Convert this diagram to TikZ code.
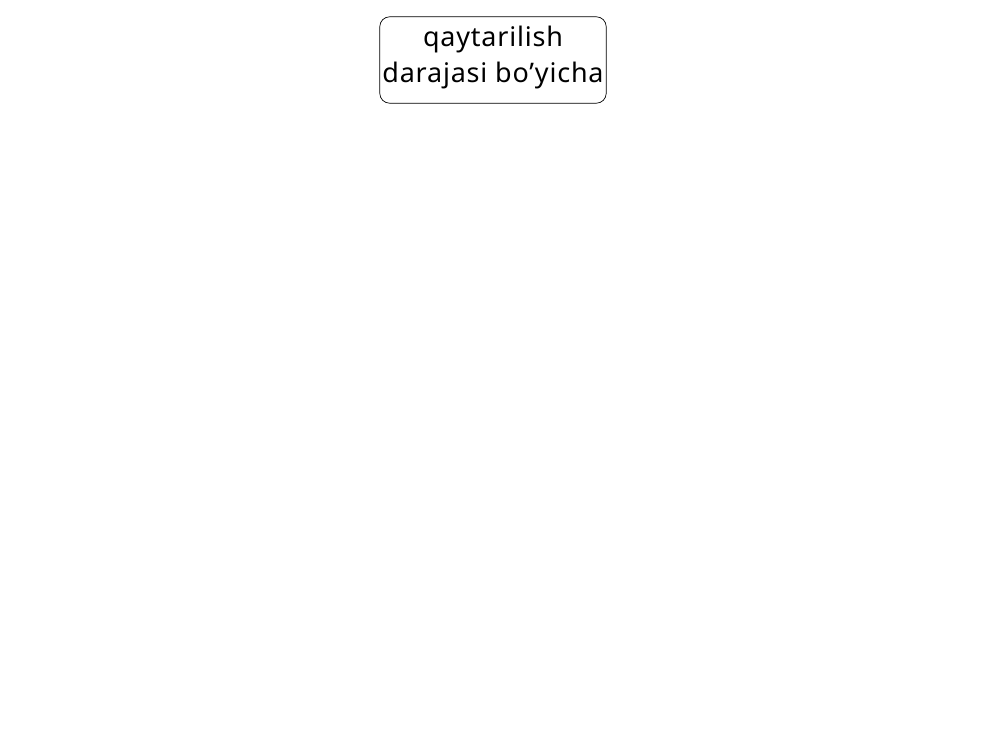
\documentclass[tikz,border=0pt]{standalone}
\usepackage{fontspec}
\setmainfont{Noto Sans}[LetterSpace=3]
\begin{document}
\begin{tikzpicture}[x=0.03cm,y=-0.03cm,
  boxstyle/.style={draw=black, line width=0.6pt, rounded corners=0.3cm, minimum width=6.78cm, minimum height=2.58cm, align=center, inner sep=0pt, font=\fontsize{23}{31.5}\selectfont}]
\useasboundingbox (0,0) rectangle (1000,750);
\node[draw=none, minimum width=6.78cm, minimum height=2.58cm] (frame) at (493,60) {};
\draw[line width=0.6pt, rounded corners=0.3cm] (frame.south west) rectangle (frame.north east);
\node[boxstyle, draw=none] (a) at (493,57.5) {qaytarilish\\darajasi bo’yicha};
\end{tikzpicture}
\end{document}
